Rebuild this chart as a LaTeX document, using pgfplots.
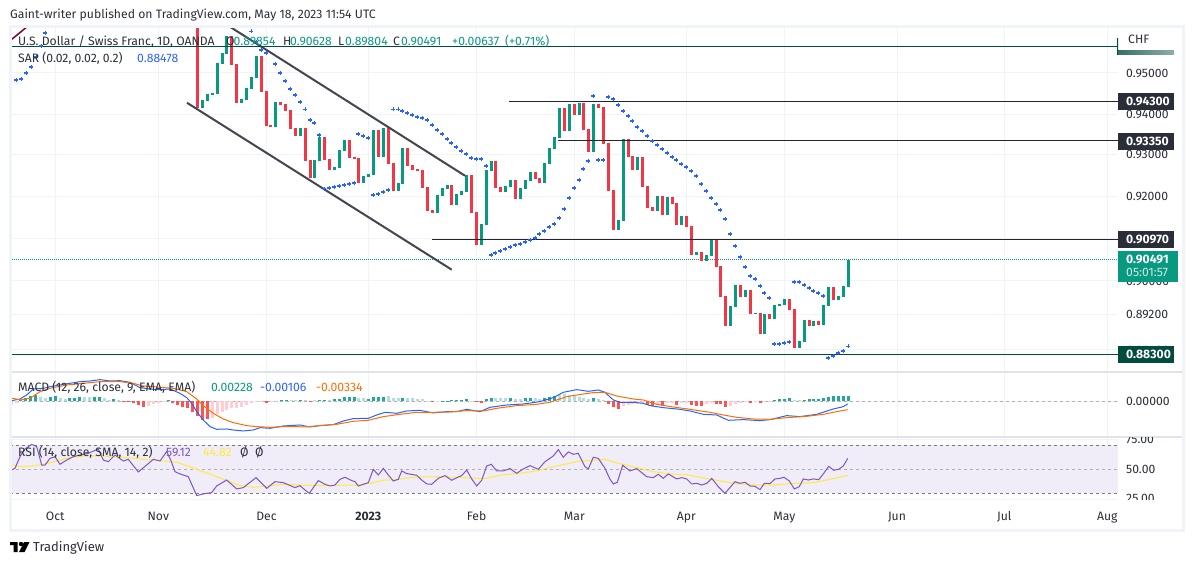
\documentclass[border=0pt]{standalone}
\usepackage{pgfplots}
\pgfplotsset{compat=1.18}
\usepackage{pgfplotstable}
\usepackage{fontspec}
\setmainfont{Fira Sans}

\definecolor{tvred}{HTML}{F23645}
\definecolor{tvgreen}{HTML}{089981}
\definecolor{tvblue}{HTML}{2962FF}
\definecolor{tvorange}{HTML}{FF6D00}
\definecolor{tvdark}{HTML}{2A2E39}
\definecolor{tvdeep}{HTML}{004D40}
\definecolor{tvgrid}{HTML}{F0F3FA}
\definecolor{tvsep}{HTML}{E0E3EB}
\definecolor{tvgray}{HTML}{787B86}
\definecolor{channel}{HTML}{434651}
\definecolor{histD}{HTML}{26A69A}
\definecolor{histL}{HTML}{B2DFDB}
\definecolor{histR}{HTML}{FF5252}
\definecolor{histP}{HTML}{FFCDD2}
\definecolor{rsiline}{HTML}{7E57C2}
\definecolor{rsima}{HTML}{FFEB3B}
\definecolor{rsiband}{HTML}{F0ECF8}

% candles, body only: x position, low and high of the body
\pgfplotstableread{
x lo hi
197.3 .94140 .96143
231.3 .95198 .95918
236.3 .94262 .95222
261.3 .94532 .95420
266.3 .93701 .94557
270.3 .93676 .93725
280.3 .94213 .94287
285.3 .94067 .94238
290.3 .93627 .94091
295.3 .93457 .93652
305.3 .92852 .93652
310.3 .92443 .92876
324.3 .92876 .93433
329.3 .92635 .92900
349.3 .92924 .93360
354.3 .92900 .92948
358.3 .92323 .92924
378.3 .92948 .93603
388.3 .92779 .93652
393.3 .92131 .92804
407.3 .92731 .93166
412.3 .92635 .92755
417.3 .92611 .92659
422.3 .92203 .92635
427.3 .91653 .92227
432.3 .91606 .91677
451.3 .91796 .92275
471.3 .91606 .92515
476.3 .90847 .91629
495.3 .92203 .92852
500.3 .92107 .92227
515.3 .91940 .92395
535.3 .92419 .92587
539.3 .92323 .92443
564.3 .93579 .94140
574.3 .93969 .94238
583.3 .93603 .94262
588.3 .93069 .93627
598.3 .94140 .94238
603.3 .93263 .94164
608.3 .92131 .93287
613.3 .91202 .92155
628.3 .92948 .93384
632.3 .92635 .92973
642.3 .92227 .92948
647.3 .91725 .92251
652.3 .91653 .91749
662.3 .91558 .92011
672.3 .91820 .91987
676.3 .91320 .91844
686.3 .91273 .91534
691.3 .90611 .91297
701.3 .90470 .90682
716.3 .90329 .90965
720.3 .89627 .90352
725.3 .88954 .89650
740.3 .89627 .89907
750.3 .89232 .89790
760.3 .88769 .89255
769.3 .89116 .89232
789.3 .89325 .89580
794.3 .88447 .89348
809.3 .88954 .89093
818.3 .88977 .89070
833.3 .89557 .89860
}\redcandles
\pgfplotstableread{
x lo hi
202.3 .94140 .94336
207.3 .94311 .94483
212.3 .94459 .94507
217.3 .94483 .95247
222.3 .95222 .95494
226.3 .95470 .95918
241.3 .94262 .94360
246.3 .94336 .94630
251.3 .94606 .94901
256.3 .94876 .95420
275.3 .93676 .94287
300.3 .93457 .93652
314.3 .92443 .92876
319.3 .92852 .93433
334.3 .92635 .92707
339.3 .92683 .93118
344.3 .93094 .93360
363.3 .92323 .92491
368.3 .92467 .92539
373.3 .92515 .93603
383.3 .92948 .93652
398.3 .92131 .92323
402.3 .92299 .93166
437.3 .91606 .92035
442.3 .92011 .92203
447.3 .92179 .92275
456.3 .91796 .92059
461.3 .92035 .92131
466.3 .92107 .92515
481.3 .90847 .91344
486.3 .91320 .92635
491.3 .92611 .92852
505.3 .92107 .92251
510.3 .92227 .92395
520.3 .91940 .92203
525.3 .92179 .92395
530.3 .92371 .92587
544.3 .92323 .92804
549.3 .92779 .93166
554.3 .93142 .93433
559.3 .93408 .94140
569.3 .93579 .94238
579.3 .93969 .94262
593.3 .93069 .94238
618.3 .91202 .91439
623.3 .91415 .93384
637.3 .92635 .92948
657.3 .91653 .92011
667.3 .91558 .91987
681.3 .91320 .91534
696.3 .90611 .90682
706.3 .90470 .90611
711.3 .90587 .90965
730.3 .88954 .89418
735.3 .89395 .89907
745.3 .89627 .89790
755.3 .89232 .89255
764.3 .88769 .89232
774.3 .89116 .89441
779.3 .89418 .89464
784.3 .89441 .89580
799.3 .88447 .88608
804.3 .88585 .89093
813.3 .88954 .89070
823.3 .88977 .89441
828.3 .89418 .89860
838.3 .89557 .89650
843.3 .89627 .89884
848.3 .89860 .90491
}\greencandles

\pgfplotstableread{
x y
16.3 .94820
21.3 .94844
26.3 .94993
31.3 .95141
36.3 .95388
41.3 .95662
45.3 .95988
251.3 .96035
256.3 .95769
261.3 .95562
266.3 .95488
275.3 .95214
280.3 .94993
285.3 .94795
290.3 .94598
295.3 .94450
300.3 .94279
305.3 .94108
310.3 .93840
314.3 .93767
319.3 .93474
324.3 .92179
329.3 .92196
334.3 .92220
339.3 .92244
344.3 .92268
349.3 .92292
354.3 .92316
358.3 .93498
363.3 .93450
368.3 .93401
373.3 .92028
378.3 .92052
383.3 .92100
388.3 .92148
393.3 .94108
398.3 .94108
402.3 .94059
407.3 .94010
412.3 .93962
417.3 .93913
422.3 .93889
427.3 .93840
432.3 .93718
437.3 .93596
442.3 .93498
447.3 .93377
451.3 .93280
456.3 .93183
461.3 .93087
466.3 .93014
471.3 .92917
476.3 .92893
481.3 .92893
486.3 .92724
491.3 .90604
495.3 .90651
500.3 .90698
505.3 .90746
510.3 .90793
515.3 .90840
520.3 .90864
525.3 .90911
530.3 .90958
535.3 .91005
539.3 .91100
544.3 .91171
549.3 .91266
554.3 .91337
559.3 .91479
564.3 .91694
569.3 .91957
574.3 .92196
579.3 .92388
583.3 .92652
588.3 .92845
593.3 .94426
598.3 .92869
603.3 .92869
608.3 .94401
613.3 .94352
618.3 .94205
623.3 .94059
628.3 .93937
632.3 .93815
637.3 .93669
642.3 .93572
647.3 .93450
652.3 .93328
657.3 .93231
662.3 .93135
667.3 .93038
672.3 .92941
676.3 .92869
681.3 .92772
686.3 .92700
691.3 .92604
696.3 .92484
701.3 .92292
706.3 .92124
711.3 .91957
716.3 .91813
720.3 .91670
725.3 .91456
730.3 .91100
735.3 .90816
740.3 .90557
745.3 .90322
750.3 .90113
755.3 .90040
760.3 .89877
764.3 .89713
769.3 .89597
774.3 .88532
779.3 .88532
784.3 .88555
789.3 .88578
794.3 .89970
799.3 .89970
804.3 .89900
809.3 .89830
813.3 .89760
818.3 .89713
823.3 .89644
828.3 .88212
833.3 .88258
838.3 .88327
843.3 .88373
848.3 .88478
}\sar

% macd histogram, four shades
\pgfplotstableread{
x y
20.7 .00053
25.7 .0012
30.7 .00227
35.3 .00253
50.3 .00173
55.3 .00213
69.3 .00147
74.3 .00147
79.3 .00173
94.3 .00173
99.3 .00173
113.3 .00093
168.3 .0004
281 .00053
286 .00053
300.3 .00053
319.3 .00053
324.3 .00053
334.3 .0008
339.3 .00093
344.3 .0016
349.3 .00187
354.3 .00173
368.3 .00093
373.3 .0016
378.3 .00173
383.3 .00173
402.3 .00133
442.3 .00027
447.3 .00027
451.3 .00053
456.3 .00053
461.3 .00067
466.3 .00093
486.3 .00093
491.3 .0012
510.3 .00147
525.3 .00133
530.3 .00147
544.3 .00133
549.3 .00173
554.3 .00227
593.3 .00133
774.3 .00067
779.3 .00093
784.3 .00093
789.3 .00133
804.3 .00053
809.3 .00093
813.3 .00093
818.3 .00093
823.3 .00133
828.3 .00173
833.3 .00213
838.3 .00213
843.3 .00213
848.3 .00228
}\histD
\pgfplotstableread{
x y
40.3 .00187
45.3 .0012
60.3 .0012
65 .00093
84.3 .0016
89.3 .0016
104.3 .0012
109.3 .00067
118.3 .00053
276 .00013
291 .0004
295.3 .0004
305.3 .0004
314.3 .0004
329.3 .0004
358.3 .00133
363.3 .0012
388.3 .00213
393.3 .0012
398.3 .0012
407.3 .0012
412.3 .0012
417.3 .00107
422.3 .00107
495.3 .0012
500.3 .00133
505.3 .00133
515.3 .00093
520.3 .00093
535.3 .0012
539.3 .00093
559.3 .00253
564.3 .0028
569.3 .00253
574.3 .00227
579.3 .00173
583.3 .00147
588.3 .00093
598.3 .00093
603.3 .0004
794.3 .00053
799.3 .00053
}\histL
\pgfplotstableread{
x y
123.3 -.00013
128.3 -.00027
133.3 -.0008
138.3 -.00147
143.3 -.00213
172.7 -.00053
177.7 -.00147
182.7 -.00213
187.3 -.0028
192.3 -.0044
197.3 -.00573
202.3 -.00747
207.3 -.0072
266 -.00053
310.3 -.0004
432.3 -.00027
476.3 -.0004
481.3 -.00067
608.3 -.00093
613.3 -.00227
618.3 -.00307
647.3 -.00147
652.3 -.00173
662.3 -.00187
676.3 -.00147
691.3 -.00147
696.3 -.00187
701.3 -.00187
716.3 -.0012
720.3 -.0012
725.3 -.00213
750.3 -.00053
760.3 -.00053
}\histR
\pgfplotstableread{
x y
11.7 -.00147
16.3 -.0008
148.3 -.00173
153.3 -.0012
158.3 -.0008
163.3 -.0004
212.3 -.0068
217.3 -.0052
222.3 -.0044
226.7 -.00347
231.7 -.0028
236.7 -.00253
241.7 -.00227
246.7 -.00147
251.7 -.0008
256.7 -.0004
261.7 -.00013
271 -.00027
427.3 -.00013
437.3 -.00013
471.3 -.00013
623.3 -.00187
628.3 -.00147
632.3 -.00107
637.3 -.0012
642.3 -.0008
657.3 -.00147
667.3 -.0008
672.3 -.0008
681.3 -.0008
686.3 -.0008
706.3 -.00107
711.3 -.00067
730.3 -.00173
735.3 -.0012
740.3 -.0008
745.3 -.0004
755.3 -.0004
764.3 -.0004
769.3 -.00013
}\histP

\newcommand\T[4]{\node[anchor=base west,inner sep=0pt,text=#3] at (#1,565-#2) {#4};}
\newcommand\tagbox[4]{% y centre, half height, fill, text
  \fill[#3] (1118,565-#1-#2) rectangle (1174,565-#1+#2);
  \node[anchor=base west,inner sep=0pt,text=white] at (1126,565-#1-4) {\bfseries #4};}
% one \addplot for each candle of a table
\newcommand\candles[2]{%
  \pgfplotstablegetrowsof{#1}\pgfmathtruncatemacro\lastrow{\pgfplotsretval-1}%
  \pgfplotsforeachungrouped \i in {0,...,\lastrow}{%
    \pgfplotstablegetelem{\i}{x}\of{#1}\let\cx\pgfplotsretval
    \pgfplotstablegetelem{\i}{lo}\of{#1}\let\clo\pgfplotsretval
    \pgfplotstablegetelem{\i}{hi}\of{#1}\let\chi\pgfplotsretval
    \edef\doplot{\noexpand\addplot[draw=#2,line width=3pt,forget plot] coordinates {(\cx,\clo)(\cx,\chi)};}%
    \doplot
  }}

\pgfplotsset{
  tvpane/.style={
    scale only axis, width=1108pt, xmin=10, xmax=1118,
    anchor=north west,
    axis line style={draw=none}, major tick length=0pt,
    xmajorgrids, ymajorgrids, scaled ticks=false,
    grid style={draw=tvgrid,line width=1pt},
    xtick={55.3,158.3,266.5,368.3,476.5,574.3,686.3,784.3,897,1004.3,1107.3},
    xticklabels={},
    yticklabel pos=right,
    yticklabel style={anchor=west,inner sep=0pt,xshift=8pt,text=tvdark},
    clip=true},
  hist/.style={ycomb,line width=3pt,draw=#1,mark=none,forget plot},
}

\begin{document}
\fontsize{12.2}{14}\selectfont
\begin{tikzpicture}[x=1pt,y=1pt]
\useasboundingbox (0,0) rectangle (1194,565);

% price pane, the chart's log scale
\begin{axis}[tvpane, at={(10pt,537pt)}, height=344pt,
  y coord trafo/.code={\pgfmathparse{100*ln(#1)}\pgfmathresult},
  ymin=0.87897, ymax=0.96118,
  ytick={0.884,0.892,0.90,0.91,0.92,0.93,0.94,0.95},
  yticklabels={0.88400,0.89200,0.90000,0.91000,0.92000,0.93000,0.94000,0.95000}]
  \addplot[draw=tvgreen,densely dotted,line width=1pt,forget plot] coordinates {(10,.90491)(1118,.90491)};
  \candles{\redcandles}{tvred}
  \candles{\greencandles}{tvgreen}
  \addplot[only marks,mark=+,mark size=2pt,mark options={draw=tvblue,line width=1.4pt},forget plot] table[x=x,y=y] {\sar};
  % channel
  \addplot[draw=channel,line width=2pt,forget plot] coordinates {(230,.96143)(465,.92491)};
  \addplot[draw=channel,line width=2pt,forget plot] coordinates {(187,.94262)(451.7,.90258)};
  % levels
  \addplot[draw=tvdark!80!black,line width=1.1pt,forget plot] coordinates {(509.3,.943)(1118,.943)};
  \addplot[draw=tvdark!80!black,line width=1.1pt,forget plot] coordinates {(558.3,.9335)(1118,.9335)};
  \addplot[draw=tvdark!80!black,line width=1.1pt,forget plot] coordinates {(431.7,.9097)(1118,.9097)};
  \addplot[draw=tvdeep,line width=1.1pt,forget plot] coordinates {(10,.883)(1118,.883)};
  \addplot[draw=tvdeep,line width=1.1pt,forget plot] coordinates {(10,.95644)(1118,.95644)};
  \addplot[draw=tvdeep,line width=1.1pt,forget plot] coordinates {(1118,.95860)(1118,.95445)};
  \addplot[draw=purple!70!black,line width=1.5pt,forget plot] coordinates {(10,.95794)(27,.96143)};
\end{axis}

% macd pane
\begin{axis}[tvpane, at={(10pt,192pt)}, height=64pt,
  ymin=-.01428, ymax=.01133,
  ytick={0}, yticklabels={0.00000}]
  \addplot[draw=tvgray!60,dashed,line width=.8pt,forget plot] coordinates {(10,0)(1118,0)};
  \addplot[hist=histD] table[x=x,y=y] {\histD};
  \addplot[hist=histL] table[x=x,y=y] {\histL};
  \addplot[hist=histR] table[x=x,y=y] {\histR};
  \addplot[hist=histP] table[x=x,y=y] {\histP};
  \addplot[draw=tvblue,line width=1pt,forget plot] coordinates {
    (10,.00013)(20,.00093)(26.7,.00253)(33.3,.00493)(43.3,.0052)(50,.00587)(60,.00653)(70,.0072)(80,.00787)(90,.00813)
    (100,.00867)(110,.00813)(120,.00827)(130,.0076)(140,.00547)(150,.00493)(160,.00467)(170,.00493)(180,.0032)(186.7,.00147)
    (191.7,-.0008)(196.7,-.00413)(203.3,-.0075)(210,-.01013)(216.7,-.0112)(226.7,-.01107)(233.3,-.01147)(243.3,-.01187)
    (253.3,-.01147)(260,-.01053)(270,-.0108)(283.3,-.00987)(300,-.00947)(310,-.01027)(320,-.00973)(333.3,-.00933)
    (343.3,-.00787)(353.3,-.00693)(368.3,-.0068)(376.7,-.00547)(385,-.0044)(396.7,-.0048)(406.7,-.00387)(420,-.0036)
    (433.3,-.00467)(446.7,-.00413)(456.7,-.00413)(466.7,-.0032)(480,-.00413)(490,-.0024)(506.7,-.00147)(523.3,-.00107)
    (540,-.00013)(553.3,.00147)(563.3,.0036)(576.7,.00467)(588.3,.004)(598.3,.00453)(605,.0036)(613.3,.00053)(620,-.0004)
    (633.3,-.0004)(643.3,-.0008)(650,-.00173)(663.3,-.00253)(680,-.0032)(690,-.00387)(703.3,-.0052)(716.7,-.00547)
    (728.3,-.0076)(743.3,-.00733)(760,-.00773)(770,-.00733)(786.7,-.00573)(800,-.00613)(816.7,-.0052)(833.3,-.00307)
    (843.3,-.00213)(847.7,-.00106)};
  \addplot[draw=tvorange,line width=1pt,forget plot] coordinates {
    (10,.00147)(20,.00053)(30,.0012)(40,.00387)(50,.0052)(66.7,.00653)(83.3,.0072)(100,.00787)(120,.00787)(133.3,.0072)
    (143.3,.00613)(156.7,.00573)(173.3,.0052)(186.7,.00387)(196.7,.00093)(203.3,-.00173)(213.3,-.0048)(223.3,-.00707)
    (233.3,-.00853)(246.7,-.00973)(256.7,-.01013)(270,-.0104)(283.3,-.01013)(306.7,-.0102)(323.3,-.0096)(336.7,-.0092)
    (353.3,-.008)(368.3,-.0076)(383.3,-.00613)(400,-.0052)(416.7,-.0044)(433.3,-.0044)(450,-.00427)(466.7,-.00373)
    (483.3,-.00387)(496.7,-.0028)(516.7,-.00173)(536.7,-.0012)(550,-.0004)(566.7,.00187)(583.3,.00293)(593.3,.00347)
    (605,.0036)(616.7,.00213)(633.3,.00093)(643.3,.00053)(656.7,-.0012)(673.3,-.00227)(690,-.0032)(710,-.0044)
    (723.3,-.00547)(736.7,-.0064)(753.3,-.00707)(770,-.0072)(786.7,-.00653)(806.7,-.006)(823.3,-.0052)(836.7,-.00413)
    (847.7,-.00334)};
\end{axis}

% rsi pane
\begin{axis}[tvpane, at={(10pt,127pt)}, height=62pt,
  ymin=24.2, ymax=76.3,
  ytick={25,50,75}, yticklabels={,50.00,},
  xticklabels={Oct,Nov,Dec,\bfseries 2023,Feb,Mar,Apr,May,Jun,Jul,Aug},
  xticklabel style={anchor=base,yshift=-20pt,text=tvdark}]
  \addplot[draw=none,fill=rsiband,forget plot] coordinates {(10,30)(1118,30)(1118,70)(10,70)} --cycle;
  \addplot[draw=tvgray,dashed,line width=.8pt,forget plot] coordinates {(10,70)(1118,70)};
  \addplot[draw=tvgray!60,dashed,line width=.8pt,forget plot] coordinates {(10,50)(1118,50)};
  \addplot[draw=tvgray,dashed,line width=.8pt,forget plot] coordinates {(10,30)(1118,30)};
  \addplot[draw=rsima,line width=1pt,forget plot] coordinates {
    (10,54.2)(20,52.2)(33.3,52.8)(43.3,54.2)(56.7,57)(70,59.8)(83.3,61.2)(100,61.2)(123.3,60.1)(143.3,58.4)(163.3,57)
    (176.7,55.9)(190,52.2)(200,48.9)(213.3,45)(226.7,40.5)(240,36.3)(253.3,34.9)(266.7,36)(283.3,37.4)(300,36.8)
    (306.7,36.6)(323.3,36.3)(340,36.6)(356.7,36.8)(370,38.2)(383.3,40.8)(396.7,41.3)(406.7,42.7)(423.3,43.6)(440,43.8)
    (456.7,43.3)(476.7,42.4)(486.7,42.4)(500,45)(516.7,46.4)(536.7,48.6)(550,51.7)(566.7,54.5)(580,57)(590,57.3)
    (605,58.4)(618.3,55)(633.3,52.2)(653.3,48)(670,46.1)(686.7,45.5)(703.3,42.7)(720,40.2)(736.7,38)(756.7,36.6)
    (773.3,36.8)(790,38)(813.3,38.8)(826.7,41)(847.7,44.82)};
  \addplot[draw=rsiline,line width=1pt,forget plot] coordinates {
    (10,48.9)(15,50.8)(20,60.6)(25,67)(31.7,71)(36.7,69)(41.7,53.6)(45,53.6)(50,59.2)(55,60.6)(60,54.2)(66.7,57.8)
    (73.3,60.6)(80,62)(88.3,63.4)(98.3,67.1)(103.3,57.8)(108.3,56.4)(115,62)(123.3,57)(128.3,58.4)(138.3,47.8)
    (146.7,53.6)(153.3,58.4)(160,57)(166.7,64.9)(170.7,57.8)(175,48)(180,46.1)(188.3,43.8)(196.7,27.9)(203.3,29.3)
    (211.7,30.4)(216.7,36)(226.7,41)(236.7,33.5)(243.3,34.6)(256,43)(266.7,34)(275,39.6)(283.3,38.8)(295,34.6)(300,36.3)
    (305,32.6)(309.3,29.8)(318.3,40.5)(325,37.4)(330,36)(335,36.8)(340,41.6)(345,43.3)(351.7,40.5)(355,39.6)(358.3,36)
    (363.3,37.4)(368.3,38.8)(373.3,50)(378.3,45.2)(383.3,50.8)(388.3,45.2)(393.3,40.2)(398.3,41.6)(401.7,48.6)(406.7,46.4)
    (416.7,45)(421.7,41)(426.7,37.7)(431.7,37.4)(438.3,42.4)(445,44.7)(451.7,40.8)(458.3,43.6)(461.7,44.7)(466.7,49.4)
    (471.7,41.9)(476.7,36)(481.7,40.8)(486.7,52.8)(491.3,54.2)(496.7,48.6)(503.3,48.6)(510,50.6)(516.7,46.6)(523.3,50.3)
    (530,53.1)(538.3,50)(545,56.4)(553.3,61.2)(558.3,66.5)(563.3,60.1)(568.3,64.6)(573.3,62.6)(578.3,63.4)(585,52.2)
    (588.3,50.3)(593.3,60.1)(598.3,59.2)(605,50.8)(610,41.6)(613.3,37.7)(617.3,39.1)(622.7,53.4)(630,48.6)(636.7,50.6)
    (646.7,43.8)(653.3,43)(658.3,45.8)(663.3,42.4)(668.3,46.1)(676.7,41.9)(681.7,43)(686.7,41.9)(691.7,37.7)(696.7,38.2)
    (701.7,36.8)(706.7,38.2)(711.7,42.4)(718.3,35.4)(725,29.8)(735,39.6)(740,38.2)(745,39.1)(750,36)(755,35.7)(760,32.9)
    (764.3,38.2)(770,38)(775,41.9)(780,42.4)(784,43.3)(789.3,40.2)(794.3,33.5)(799.3,35.4)(803.3,41.9)(808.3,41)
    (813.3,41.9)(818.7,41.3)(823.7,46.6)(828.7,52.5)(833.7,49.2)(838.7,50)(843.3,52.8)(847.7,59.12)};
\end{axis}

% pane separators and frame
\draw[tvsep,line width=1.2pt] (10,565-372) -- (1183,565-372);
\draw[tvsep,line width=1.2pt] (10,565-437) -- (1183,565-437);
\draw[tvgrid,line width=3pt] (10,565-27) rectangle (1183.5,565-530);

% rsi labels cut off by the pane edges
\begin{scope}
  \clip (1119,565-438) rectangle (1183,565-500);
  \node[anchor=base west,inner sep=0pt,text=tvdark] at (1126,565-443.5) {75.00};
  \node[anchor=base west,inner sep=0pt,text=tvdark] at (1126,565-503) {25.00};
\end{scope}

% right hand tags
\T{1128}{44}{tvdark}{CHF}
\shade[left color=tvdeep!80,right color=tvdeep!45] (1118,565-55) rectangle (1174,565-51);
\tagbox{101.7}{8.5}{tvdark}{0.94300}
\tagbox{141.7}{8.5}{tvdark}{0.93350}
\tagbox{239.5}{8.5}{tvdark}{0.90970}
\fill[tvgreen] (1118,565-251.3) rectangle (1178,565-281.7);
\T{1126}{263.5}{white}{\bfseries 0.90491}
\T{1126}{277}{white!80!tvgreen}{05:01:57}
\tagbox{354.5}{8.5}{tvdeep}{0.88300}

% legends
\T{10}{19}{tvdark}{Gaint-writer published on TradingView.com, May 18, 2023 11:54 UTC}
\T{18}{46}{tvdark}{U.S. Dollar / Swiss Franc, 1D, OANDA}
\T{226}{46}{tvdark}{O}
\T{233.5}{46}{tvgreen}{0.89854}
\T{283}{46}{tvdark}{H}
\T{290}{46}{tvgreen}{0.90628}
\T{338}{46}{tvdark}{L}
\T{345}{46}{tvgreen}{0.89804}
\T{393}{46}{tvdark}{C}
\T{401}{46}{tvgreen}{0.90491}
\T{452}{46}{tvgreen}{+0.00637}
\T{505}{46}{tvgreen}{(+0.71\%)}
\T{18}{63}{tvdark}{SAR (0.02, 0.02, 0.2)}
\T{137}{63}{tvblue}{0.88478}
\T{18}{392}{tvdark}{MACD (12, 26, close, 9, EMA, EMA)}
\T{211}{392}{tvgreen}{0.00228}
\T{260}{392}{tvblue}{-0.00106}
\T{316}{392}{tvorange}{-0.00334}
\T{18}{457}{tvdark}{RSI (14, close, SMA, 14, 2)}
\T{166}{457}{rsiline}{59.12}
\T{203}{457}{rsima}{44.82}
\T{240}{457}{tvdark}{Ø}
\T{255}{457}{tvdark}{Ø}

% logo
\fill[black] (10,565-542) rectangle (17.5,565-545) (13.5,565-545) rectangle (17.5,565-552);
\fill[black] (21,565-544) circle (2.2);
\fill[black] (24,565-542) -- (29.5,565-542) -- (24.5,565-552) -- (19,565-552) -- cycle;
\node[anchor=base west,inner sep=0pt,text=tvdark,font=\fontsize{13}{15}\selectfont] at (33,565-551.5) {TradingView};
\end{tikzpicture}
\end{document}
